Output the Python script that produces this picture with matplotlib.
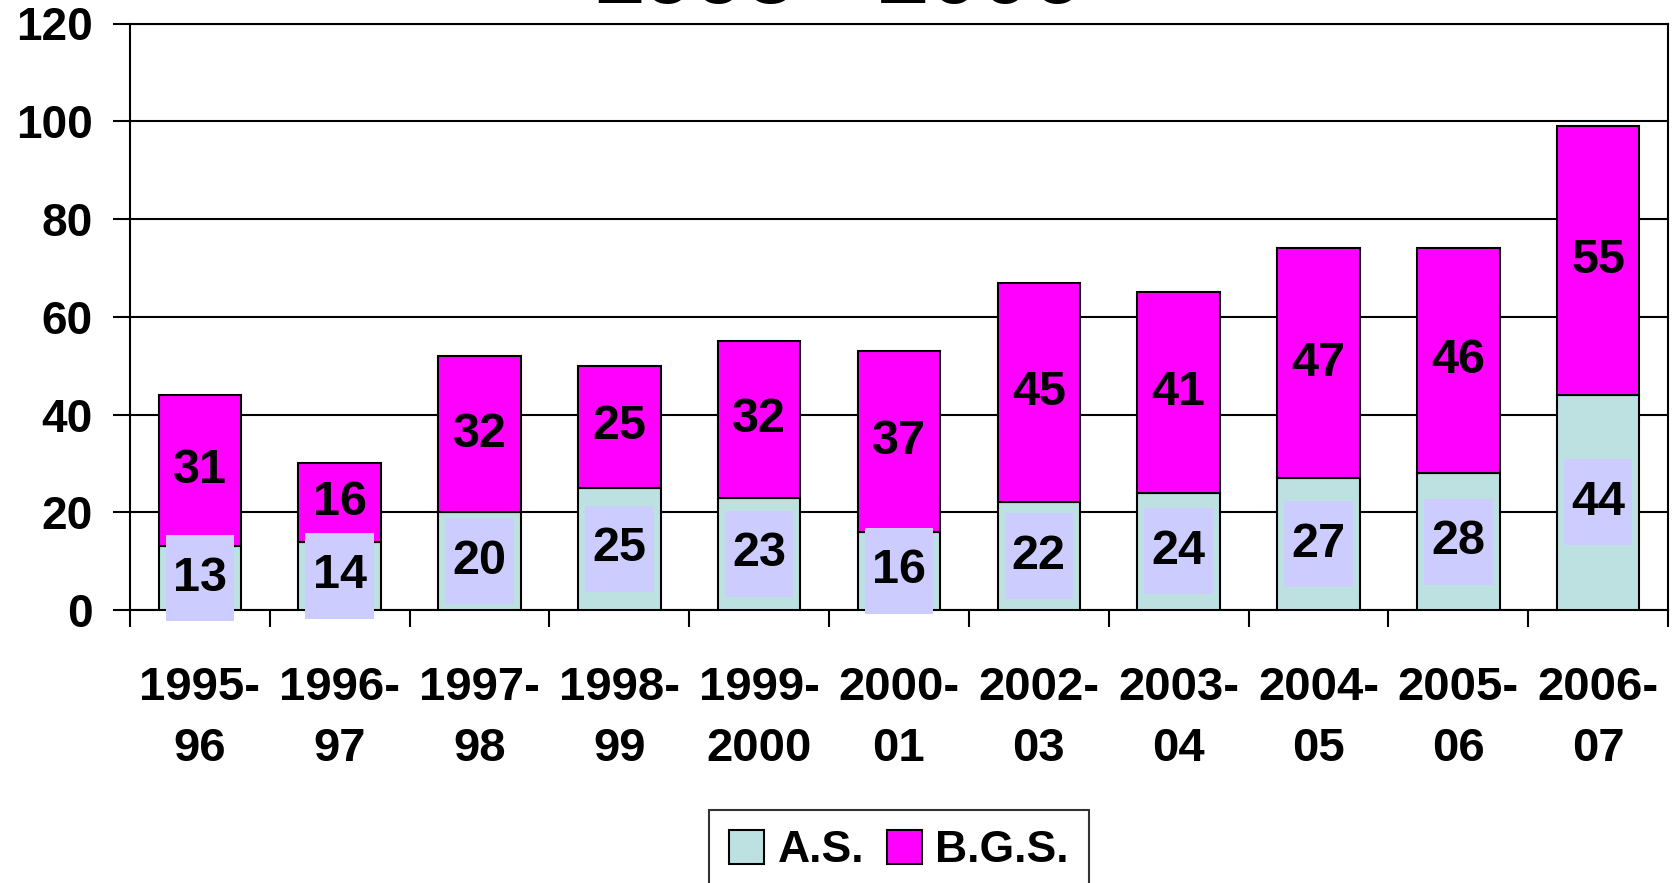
import matplotlib
matplotlib.use("Agg")
import matplotlib.pyplot as plt
from matplotlib.patches import Rectangle
import numpy as np

categories = ["1995-\n96", "1996-\n97", "1997-\n98", "1998-\n99", "1999-\n2000",
              "2000-\n01", "2002-\n03", "2003-\n04", "2004-\n05", "2005-\n06", "2006-\n07"]
as_vals = [13, 14, 20, 25, 23, 16, 22, 24, 27, 28, 44]
bgs_vals = [31, 16, 32, 25, 32, 37, 45, 41, 47, 46, 55]
title = "1995 - 2006"

plt.rcParams['font.family'] = ['Liberation Sans', 'DejaVu Sans']
plt.rcParams['font.weight'] = 'bold'

fig = plt.figure(figsize=(16.75, 8.83), dpi=100)
ax = fig.add_axes([130/1675, 1-610/883, (1668-130)/1675, (610-23.5)/883])

x = np.arange(len(categories))
w = 0.59
c_as = "#BDE1E1"
c_bgs = "#FF00FF"
ax.bar(x, as_vals, w, color=c_as, edgecolor="black", linewidth=1.5, label="A.S.", zorder=3)
ax.bar(x, bgs_vals, w, bottom=as_vals, color=c_bgs, edgecolor="black", linewidth=1.5, label="B.G.S.", zorder=3)

for xi, a, b in zip(x, as_vals, bgs_vals):
    ax.add_patch(Rectangle((xi - 0.245, a/2 - 8.8), 0.49, 17.6, facecolor="#CCCCFF",
                           edgecolor="none", zorder=4, clip_on=False))
    ax.text(xi, a/2, str(a), ha="center", va="center", fontsize=35, fontweight="bold", zorder=5)
    ax.text(xi, a + b/2, str(b), ha="center", va="center", fontsize=35, fontweight="bold", zorder=5)

ax.set_xlim(-0.5, len(categories) - 0.5)
ax.set_ylim(0, 120)
ax.set_yticks(range(0, 121, 20))
ax.yaxis.grid(True, color="black", linewidth=1.5, zorder=0)
ax.tick_params(axis="y", labelsize=33, length=12, width=1.5, pad=15)
ax.set_xticks(x)
ax.set_xticklabels(categories, fontsize=34, fontweight="bold", linespacing=1.5)
ax.set_xticks(np.arange(-0.5, len(categories)), minor=True)
ax.tick_params(axis="x", which="major", length=0, pad=40)
ax.tick_params(axis="x", which="minor", length=12, width=1.5)
for lbl in ax.get_yticklabels():
    lbl.set_fontweight("bold")
for s in ax.spines.values():
    s.set_linewidth(1.5)

leg = ax.legend(loc="upper center", bbox_to_anchor=(0.5, (610-810)/(610-23.5)), ncol=2,
                frameon=True, fancybox=False, edgecolor="black", borderaxespad=0,
                handlelength=0.8, handleheight=0.8, handletextpad=0.3, columnspacing=0.5,
                borderpad=0.45, prop={"weight": "bold", "size": 32})
leg.get_frame().set_linewidth(1.5)
for h in leg.legend_handles:
    h.set_edgecolor("black")
    h.set_linewidth(1.5)

fig.text(0.5, 1 - 3/883, title, ha="center", va="baseline", fontsize=66, fontweight="bold")

fig.savefig("out.png", dpi=100)
